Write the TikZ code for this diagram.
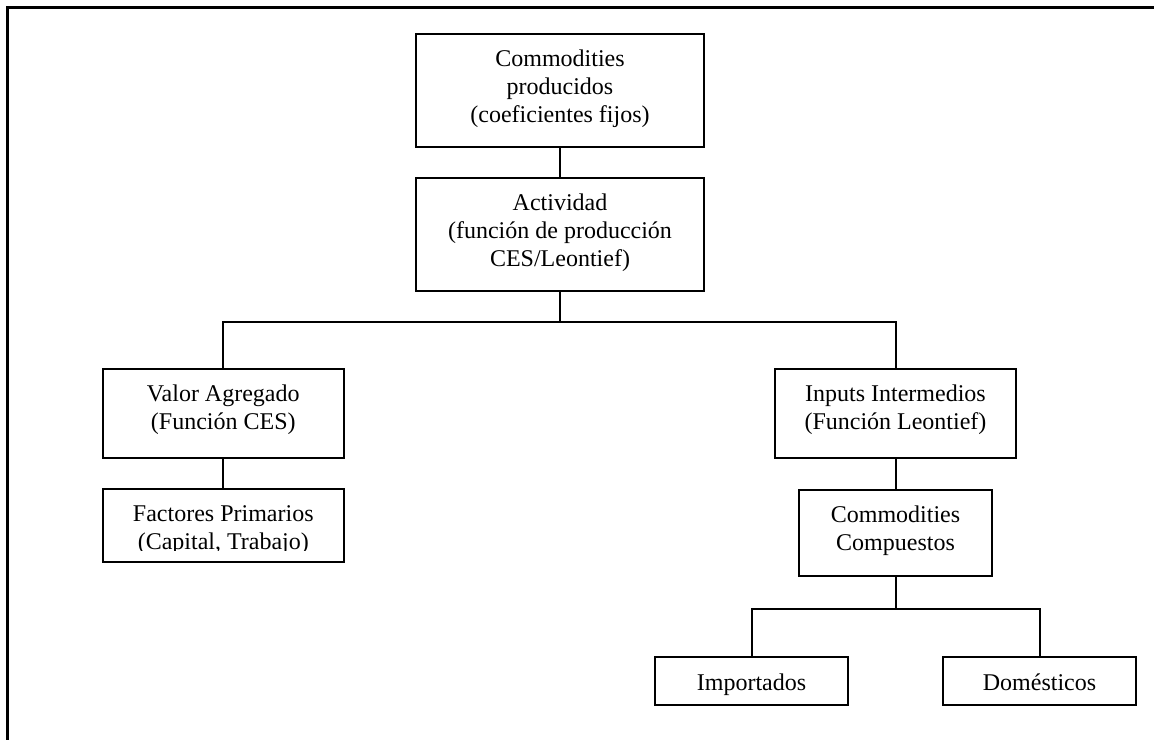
\documentclass[tikz,border=0pt]{standalone}
\usepackage{fontspec}
\setmainfont{Liberation Serif}
\usetikzlibrary{calc}
\begin{document}
\begin{tikzpicture}[x=1pt,y=-1pt,
  box/.style={draw, line width=2pt, inner sep=0pt, outer sep=0pt},
  txt/.style={inner sep=0pt, outer sep=0pt, align=center, font=\fontsize{24}{28}\selectfont, anchor=base},
  conn/.style={line width=2pt}]
\useasboundingbox (0,0) rectangle (1154,740);
% frame
\draw[line width=3pt] (7.3,7.5) -- (1154,7.5);
\draw[line width=2.6pt] (7.3,6) -- (7.3,740);
% boxes
\node[box, minimum width=288, minimum height=113] (b1) at (560,90.5) {};
\node[box, minimum width=288, minimum height=113] (b2) at (560,234.5) {};
\node[box, minimum width=240.5, minimum height=89] (va) at (223.3,413.5) {};
\node[box, minimum width=240.5, minimum height=73] (fp) at (223.3,525.5) {};
\node[box, minimum width=240.7, minimum height=89] (ii) at (895.5,413.5) {};
\node[box, minimum width=192.7, minimum height=86] (cc) at (895.5,533) {};
\node[box, minimum width=193, minimum height=48] (im) at (751.5,681) {};
\node[box, minimum width=193, minimum height=48] (do) at (1039.5,681) {};
% texts (anchor base = baseline of the last line)
\node[txt] (b1t) at ($(b1.north)+(0,88.7)$) {Commodities\\producidos\\(coeficientes fijos)};
\node[txt] (b2t) at ($(b2.north)+(0,88.7)$) {Actividad\\(función de producción\\CES/Leontief)};
\node[txt] (vat) at ($(va.north)+(0,60.7)$) {Valor Agregado\\(Función CES)};
\begin{scope}
\clip ($(fp.north west)+(1,1)$) rectangle ($(fp.east)+(-1,25)$);
\node[txt] (fpt) at ($(fp.north)+(0,60.7)$) {Factores Primarios\\(Capital, Trabajo)};
\end{scope}
\node[txt] (iit) at ($(ii.north)+(0,60.7)$) {Inputs Intermedios\\(Función Leontief)};
\node[txt] (cct) at ($(cc.north)+(0,60.7)$) {Commodities\\Compuestos};
\node[txt] (imt) at ($(im.north)+(0,33)$) {Importados};
\node[txt] (dot) at ($(do.north)+(0,33)$) {Domésticos};
% connectors
\draw[conn] (b1.south) -- (b2.north);
\coordinate (bus1) at (560,322);
\draw[conn] (b2.south) -- (bus1);
\draw[conn] (va.north) |- (bus1) -| (ii.north);
\draw[conn] (va.south) -- (fp.north);
\draw[conn] (ii.south) -- (cc.north);
\coordinate (bus2) at (895.5,609);
\draw[conn] (cc.south) -- (bus2);
\draw[conn] (im.north) |- (bus2) -| (do.north);
\end{tikzpicture}
\end{document}
